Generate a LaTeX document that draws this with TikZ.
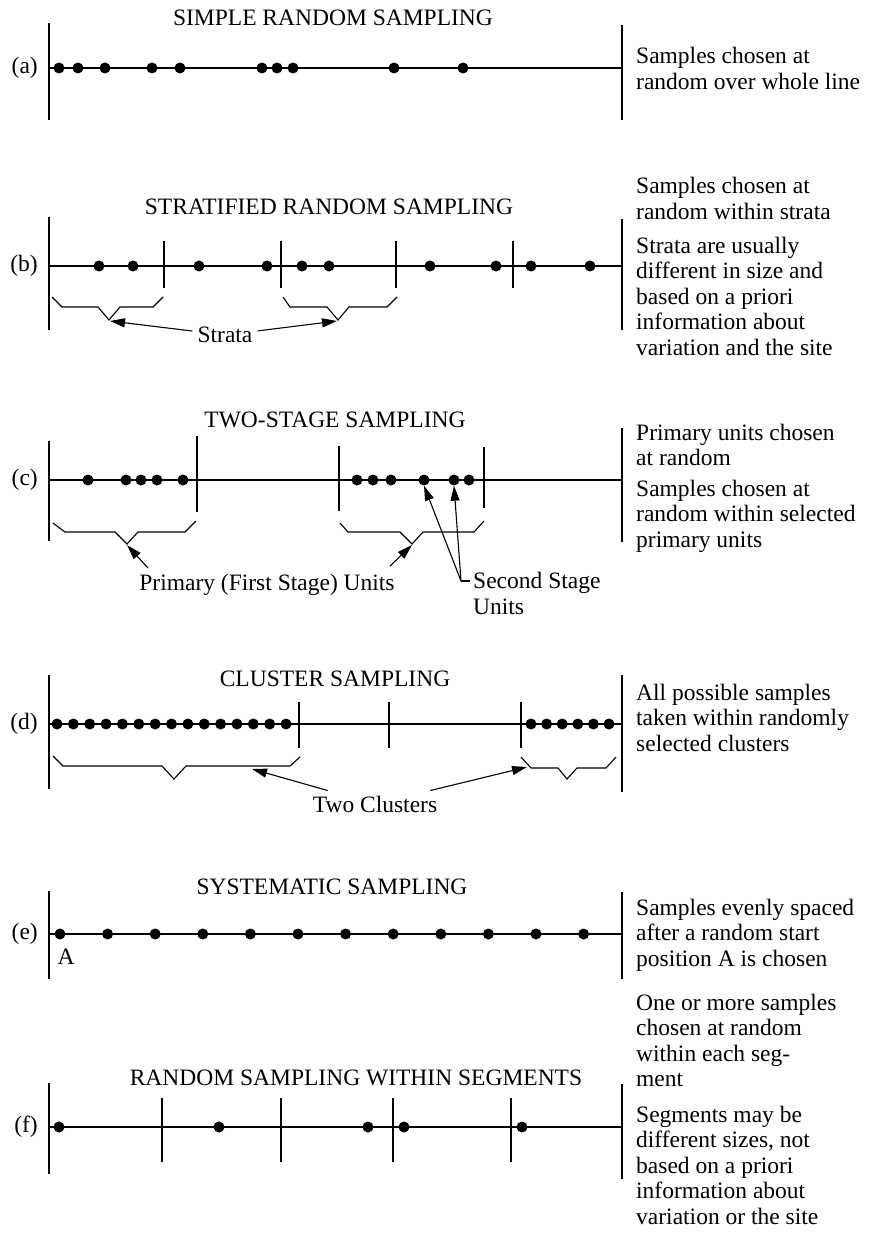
\documentclass[tikz,border=0pt]{standalone}
\usepackage{fontspec}
\setmainfont{Liberation Serif}
\usetikzlibrary{arrows.meta,positioning}

\begin{document}
\begin{tikzpicture}[x=1pt, y=-1pt,
    txt/.style={inner sep=0pt, font=\fontsize{23.5}{25.5}\selectfont},
    para/.style={txt, align=left, anchor=base west},
    ttl/.style={txt, anchor=base},
    lbl/.style={txt, anchor=east},
    tag/.style={txt, inner sep=5pt},
    dot/.style={circle, fill=black, inner sep=0pt, minimum size=11pt},
    axis/.style={line width=1.6pt},
    bar/.style={line width=1.1pt},
    brace/.style={line width=1.1pt, line join=miter},
    arr/.style={-{Triangle[length=15pt, width=9pt]}, line width=1.1pt},
]
\useasboundingbox (0,0) rectangle (869,1241);

% (a) simple random sampling
\node[ttl] (ta) at (333,26) {SIMPLE RANDOM SAMPLING};
\coordinate (a-l) at (49,68);
\coordinate (a-r) at (622,68);
\draw[bar] (49,23) -- (49,120);
\draw[bar] (622,25) -- (622,120);
\draw[axis] (a-l) -- (a-r);
\node[lbl, left=11pt of a-l] (la) {(a)};
\foreach \x [count=\i] in {59,78,105,152,180,262,277,293,394,463}
    \node[dot] (a\i) at (\x,68) {};
% paragraphs sit on the baseline of their last line
\node[para] (da) at (636,89.5) {Samples chosen at\\random over whole line};

% (b) stratified random sampling
\node[ttl] (tb) at (329,215) {STRATIFIED RANDOM SAMPLING};
\coordinate (b-l) at (49,266);
\coordinate (b-r) at (622,266);
\draw[bar] (49,217) -- (49,330);
\draw[bar] (622,219) -- (622,330);
\draw[axis] (b-l) -- (b-r);
\foreach \x in {164,281,396,513}
    \draw[bar] (\x,241) -- (\x,288);
\node[lbl, left=11pt of b-l] (lb) {(b)};
\foreach \x [count=\i] in {99,133,199,267,302,329,430,496,531,590}
    \node[dot] (b\i) at (\x,266) {};
\draw[brace] (52,297) -- (62,307) -- (98,307) -- (109,320) -- (120,307)
    -- (153,307) -- (163,297);
\draw[brace] (283,297) -- (290,307) -- (327,307) -- (338,320) -- (349,307)
    -- (387,307) -- (397,297);
\coordinate (b-s1) at (110,321);
\coordinate (b-s2) at (337,321);
\node[tag] (strata) at (225,335) {Strata};
\draw[arr] (strata) -- (b-s1);
\draw[arr] (strata) -- (b-s2);
\node[para] (db1) at (636,219.5) {Samples chosen at\\random within strata};
\node[para] (db2) at (636,355) {Strata are usually\\different in size and\\based on a priori\\information about\\variation and the site};

% (c) two-stage sampling
\node[ttl] (tc) at (335,427) {TWO-STAGE SAMPLING};
\coordinate (c-l) at (49,480);
\coordinate (c-r) at (622,480);
\draw[bar] (49,441) -- (49,541);
\draw[bar] (622,428) -- (622,542);
\draw[axis] (c-l) -- (c-r);
\draw[bar] (197,436) -- (197,512);
\draw[bar] (339,446) -- (339,511);
\draw[bar] (484,447) -- (484,508);
\node[lbl, left=11pt of c-l] (lc) {(c)};
\foreach \x [count=\i] in {88,126,141,157,183,357,373,391,424,454,469}
    \node[dot] (c\i) at (\x,480) {};
\draw[brace] (53,523) -- (65,532) -- (115,532) -- (127,544) -- (138,532)
    -- (185,532) -- (196,521);
\draw[brace] (340,523) -- (348,532) -- (400,532) -- (412,544) -- (423,532)
    -- (474,532) -- (484,521);
\coordinate (c-u1) at (127,545);
\coordinate (c-u2) at (412,545);
\node[txt, anchor=base] (prim) at (267,590) {Primary (First Stage) Units};
\coordinate (c-p1) at (148,568);
\coordinate (c-p2) at (390,566);
\draw[arr] (c-p1) -- (c-u1);
\draw[arr] (c-p2) -- (c-u2);
\coordinate (c-q) at (461,581);
\draw[arr] (c-q) -- (c9.south);
\draw[arr] (c-q) -- (c10.south);
\draw[bar] (c-q) -- ++(9,0);
\node[para] (sec) at (473,614) {Second Stage\\Units};
\node[para] (dc1) at (636,465.5) {Primary units chosen\\at random};
\node[para] (dc2) at (636,547) {Samples chosen at\\random within selected\\primary units};

% (d) cluster sampling
\node[ttl] (td) at (335,686) {CLUSTER SAMPLING};
\coordinate (d-l) at (49,724);
\coordinate (d-r) at (622,724);
\draw[bar] (49,675) -- (49,789);
\draw[bar] (622,675) -- (622,792);
\draw[axis] (d-l) -- (d-r);
\foreach \x in {299,389,521}
    \draw[bar] (\x,702) -- (\x,748);
\node[lbl, left=11pt of d-l] (ld) {(d)};
\foreach \i in {0,...,14}
    \node[dot] (d\i) at (57+16.36*\i,724) {};
\foreach \i in {0,...,5}
    \node[dot] (e\i) at (531+15.6*\i,724) {};
\draw[brace] (53,756) -- (63,766) -- (162,766) -- (174,779) -- (186,766)
    -- (290,766) -- (300,757);
\draw[brace] (521,757) -- (531,768) -- (558,768) -- (567,779) -- (577,768)
    -- (606,768) -- (616,757);
\coordinate (d-k1) at (252,769);
\coordinate (d-k2) at (527,767);
\node[tag] (clus) at (375,804) {Two Clusters};
\draw[arr] (clus) -- (d-k1);
\draw[arr] (clus) -- (d-k2);
\node[para] (dd) at (636,751) {All possible samples\\taken within randomly\\selected clusters};

% (e) systematic sampling
\node[ttl] (te) at (332,894) {SYSTEMATIC SAMPLING};
\coordinate (e-l) at (49,934);
\coordinate (e-r) at (622,934);
\draw[bar] (49,891) -- (49,979);
\draw[bar] (622,892) -- (622,979);
\draw[axis] (e-l) -- (e-r);
\node[lbl, left=11pt of e-l] (le) {(e)};
\foreach \i in {0,...,11}
    \node[dot] (s\i) at (60+47.6*\i,934) {};
\node[txt] (start) at (66,957) {A};
\node[para] (de) at (636,966) {Samples evenly spaced\\after a random start\\position A is chosen};

% (f) random sampling within segments
\node[ttl] (tf) at (356,1085) {RANDOM SAMPLING WITHIN SEGMENTS};
\coordinate (f-l) at (49,1127);
\coordinate (f-r) at (622,1127);
\draw[bar] (49,1083) -- (49,1174);
\draw[bar] (622,1084) -- (622,1179);
\draw[axis] (f-l) -- (f-r);
\foreach \x in {162,281,393,511}
    \draw[bar] (\x,1098) -- (\x,1162);
\node[lbl, left=11pt of f-l] (lf) {(f)};
\foreach \x [count=\i] in {59,219,368,404,522}
    \node[dot] (f\i) at (\x,1127) {};
\node[para] (df1) at (636,1086.5) {One or more samples\\chosen at random\\within each seg-\\ment};
\node[para] (df2) at (636,1224) {Segments may be\\different sizes, not\\based on a priori\\information about\\variation or the site};

\end{tikzpicture}
\end{document}
